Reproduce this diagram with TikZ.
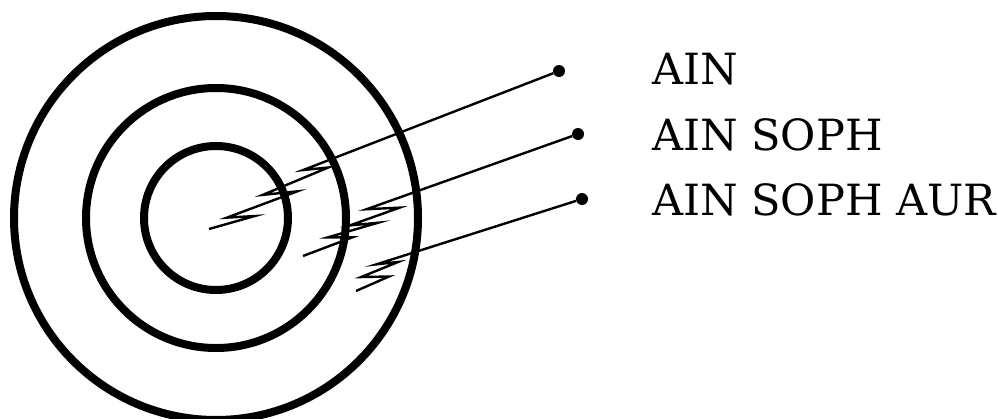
\documentclass[tikz,border=0pt]{standalone}
\usepackage{fontspec}
\setmainfont{DejaVu Serif}
\usetikzlibrary{calc}

\begin{document}
\begin{tikzpicture}[x=1pt,y=-1pt,
  ring/.style={line width=8pt},
  ray/.style={line width=2.4pt,miter limit=25},
  dot/.style={circle,fill,inner sep=0pt,minimum size=12pt},
  lbl/.style={anchor=base west,inner sep=0pt,font=\fontsize{43}{50}\selectfont}]
  \useasboundingbox (0,0) rectangle (998,418);
  \clip (0,0) rectangle (998,418);
  % the three rings
  \coordinate (ctr) at (216,218);
  \draw[ring] (ctr) circle[radius=202pt];
  \draw[ring] (ctr) circle[radius=130pt];
  \draw[ring] (ctr) circle[radius=72pt];
  % ends of the rays
  \node[dot] (d1) at (559,71) {};
  \node[dot] (d2) at (578,134) {};
  \node[dot] (d3) at (582,199) {};
  \coordinate (s1) at (209,229);
  \coordinate (s2) at (303,256);
  \coordinate (s3) at (356,291);
  % rays with their bolts (along/across the ray)
  \draw[ray] (s1) \foreach \ru/\rv/\lu/\lv in {47/-7/21/3,96/-2/63/9,134/7/110/15} {
    -- ($(s1)!{\ru*1pt}!(d1)!{\rv*1pt}!90:(d1)$)
    -- ($(s1)!{\lu*1pt}!(d1)!{\lv*1pt}!90:(d1)$)} -- (d1);
  \draw[ray] (s2) \foreach \ru/\rv/\lu/\lv in {53/-3/30/7,82/0/55/9,108/5/77/17} {
    -- ($(s2)!{\ru*1pt}!(d2)!{\rv*1pt}!90:(d2)$)
    -- ($(s2)!{\lu*1pt}!(d2)!{\lv*1pt}!90:(d2)$)} -- (d2);
  \draw[ray] (s3) \foreach \ru/\rv/\lu/\lv in {36/1/10/11,50/11/29/17} {
    -- ($(s3)!{\ru*1pt}!(d3)!{\rv*1pt}!90:(d3)$)
    -- ($(s3)!{\lu*1pt}!(d3)!{\lv*1pt}!90:(d3)$)} -- (d3);
  % names
  \node[lbl] (l1) at (652,84) {AIN};
  \node[lbl] (l2) at (652,150) {AIN SOPH};
  \node[lbl] (l3) at (652,215) {AIN SOPH AUR};
\end{tikzpicture}
\end{document}
